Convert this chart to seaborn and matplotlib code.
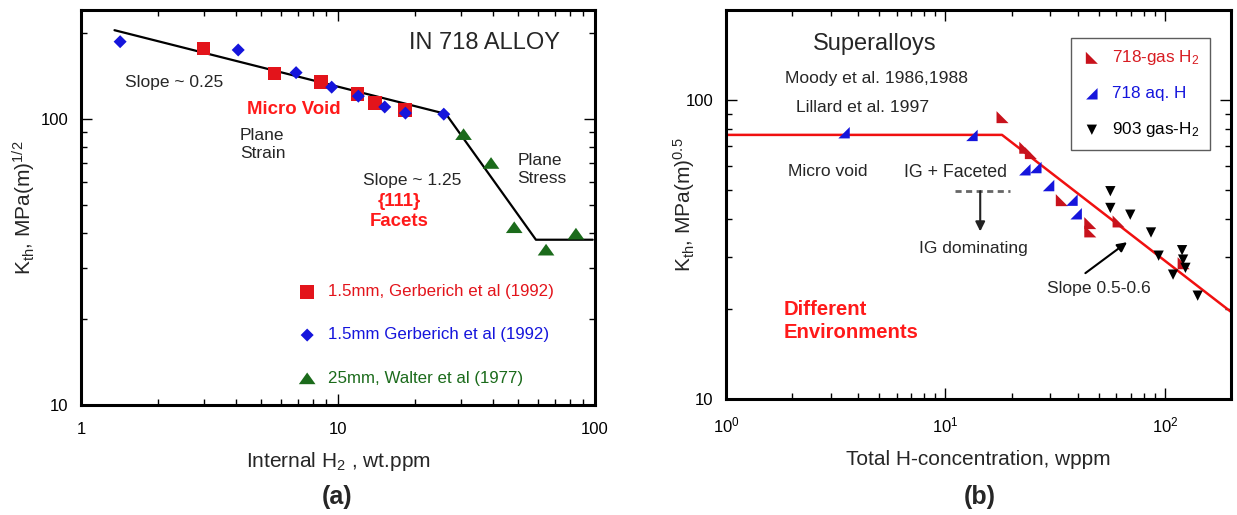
import matplotlib
matplotlib.use("Agg")
import matplotlib.pyplot as plt
import seaborn as sns
from matplotlib.ticker import FuncFormatter, LogLocator, NullFormatter

# ---------------- panel (a): IN 718, internal hydrogen ----------------
a_sq_h = [3.0, 5.65, 8.6, 11.9, 13.9, 18.2]
a_sq_k = [176, 144, 134.5, 122, 113.4, 107.2]
a_dm_h = [1.42, 4.09, 6.87, 9.45, 12.0, 15.2, 18.3, 25.8]
a_dm_k = [186, 174, 145, 129, 120, 110, 104.7, 103.8]
a_tri_h = [30.8, 39.4, 48.5, 64.5, 84.3]
a_tri_k = [88.4, 70.1, 41.8, 34.9, 39.7]
a_fit_h = [1.35, 26.3, 58.9, 98]
a_fit_k = [204, 104, 37.8, 37.8]
a_labels = ["1.5mm, Gerberich et al (1992)",
            "1.5mm Gerberich et al (1992)",
            "25mm, Walter et al (1977)"]

# ---------------- panel (b): superalloys, total hydrogen ----------------
b_gas718_h = [18.2, 23.1, 24.5, 33.9, 45.7, 45.7, 61.5, 121.7]
b_gas718_k = [87.7, 69.3, 66.5, 46.3, 38.8, 36.4, 39.3, 28.5]
b_aq718_h = [3.45, 13.2, 23.0, 25.8, 29.5, 37.7, 39.4]
b_aq718_k = [77.8, 76.2, 58.5, 59.5, 51.8, 46.3, 41.7]
b_gas903_h = [56.4, 56.4, 69.5, 86.4, 93.6, 119.7, 121.0, 124.0, 108.9, 141.0]
b_gas903_k = [49.6, 43.6, 41.4, 36.1, 30.2, 31.5, 29.3, 27.5, 26.1, 22.2]
b_fit_h = [1.0, 18.1, 200.0]
b_fit_k = [76.5, 76.5, 19.6]
b_labels = ["718-gas H$_2$", "718 aq. H", "903 gas-H$_2$"]

RED = "#e3141b"
BLUE = "#1515dc"
GREEN = "#1b6b1b"
DARKRED = "#c8121c"

sns.set_style("ticks")
plt.rcParams.update({
    "font.family": ["Liberation Sans", "DejaVu Sans"],
    "mathtext.fontset": "custom",
    "mathtext.rm": "Liberation Sans",
    "mathtext.it": "Liberation Sans:italic",
    "mathtext.bf": "Liberation Sans:bold",
    "axes.linewidth": 2.2,
    "axes.edgecolor": "black",
})

W, H = 1237, 515
fig = plt.figure(figsize=(W / 100, H / 100), dpi=100)
axA = fig.add_axes([81 / W, 1 - 405 / H, (595 - 81) / W, (405 - 10) / H])
axB = fig.add_axes([726 / W, 1 - 399.3 / H, (1231 - 726) / W, (399.3 - 10) / H])

tri_wide = [(-1, -0.7), (1, -0.7), (0, 0.7), (-1, -0.7)]
tri_ll = [(-1, -1), (1, -1), (-1, 1), (-1, -1)]   # right angle lower-left
tri_lr = [(-1, -1), (1, -1), (1, 1), (-1, -1)]    # right angle lower-right

# ---- (a) ----
sns.lineplot(x=a_fit_h, y=a_fit_k, color="black", lw=1.6, ax=axA, sort=False)
sns.scatterplot(x=a_sq_h, y=a_sq_k, marker="s", s=95, color=RED,
                edgecolor="none", linewidth=0, label=a_labels[0], ax=axA, zorder=3)
sns.scatterplot(x=a_dm_h, y=a_dm_k, marker="D", s=44, color=BLUE,
                edgecolor="none", linewidth=0, label=a_labels[1], ax=axA, zorder=3)
sns.scatterplot(x=a_tri_h, y=a_tri_k, marker=tri_wide, s=144, color=GREEN,
                edgecolor="none", linewidth=0, label=a_labels[2], ax=axA, zorder=3)

axA.set_xscale("log")
axA.set_yscale("log")
axA.set_xlim(1, 100)
axA.set_ylim(10, 240)

hA, lA = axA.get_legend_handles_labels()
legA = axA.legend(hA, lA, loc="center left", bbox_to_anchor=(297 / W, 1 - 335 / H),
                  bbox_transform=fig.transFigure, frameon=False, fontsize=12.2,
                  handlelength=1.2, handletextpad=0.65, labelspacing=1.67,
                  borderpad=0, borderaxespad=0)
for t, c in zip(legA.get_texts(), [RED, BLUE, GREEN]):
    t.set_color(c)

axA.text(37, 184, "IN 718 ALLOY", fontsize=17, ha="center", va="center")
axA.text(1.48, 134, "Slope ~ 0.25", fontsize=12.5, ha="left", va="center")
axA.text(6.74, 108, "Micro Void", fontsize=13.4, fontweight="bold", color="#ff1a1a",
         ha="center", va="center")
axA.text(4.16, 81.3, "Plane\nStrain", fontsize=12.5, ha="left", va="center", linespacing=1.3)
axA.text(19.5, 60.9, "Slope ~ 1.25", fontsize=12.5, ha="center", va="center")
axA.text(17.3, 47.5, "{111}\nFacets", fontsize=13.4, fontweight="bold", color="#ff1a1a",
         ha="center", va="center", multialignment="center", linespacing=1.2)
axA.text(49.9, 66.5, "Plane\nStress", fontsize=12.5, ha="left", va="center", linespacing=1.3)

axA.xaxis.set_major_formatter(FuncFormatter(lambda v, _: f"{v:g}"))
axA.yaxis.set_major_formatter(FuncFormatter(lambda v, _: f"{v:g}"))
axA.set_xlabel("Internal H$_2$ , wt.ppm", fontsize=15)
axA.set_ylabel("K$_{\\mathrm{th}}$, MPa(m)$^{1/2}$", fontsize=15)
axA.xaxis.set_label_coords(0.5, -0.115)
axA.yaxis.set_label_coords(-0.084, 0.5)

# ---- (b) ----
sns.lineplot(x=b_fit_h, y=b_fit_k, color="#f01010", lw=1.8, ax=axB, sort=False)
sns.scatterplot(x=b_gas718_h, y=b_gas718_k, marker=tri_ll, s=75, color=DARKRED,
                edgecolor="none", linewidth=0, label=b_labels[0], ax=axB, zorder=3)
sns.scatterplot(x=b_aq718_h, y=b_aq718_k, marker=tri_lr, s=68, color=BLUE,
                edgecolor="none", linewidth=0, label=b_labels[1], ax=axB, zorder=3)
sns.scatterplot(x=b_gas903_h, y=b_gas903_k, marker="v", s=55, color="black",
                edgecolor="none", linewidth=0, label=b_labels[2], ax=axB, zorder=3)

axB.set_xscale("log")
axB.set_yscale("log")
axB.set_xlim(1, 200)
axB.set_ylim(10, 200)

hB, lB = axB.get_legend_handles_labels()
legB = axB.legend(hB, lB, loc="upper left", bbox_to_anchor=(1071 / W, 1 - 37.7 / H),
                  bbox_transform=fig.transFigure, frameon=True, fancybox=False,
                  fontsize=12.3, handlelength=1.2, handletextpad=0.6,
                  labelspacing=1.11, borderpad=0.62, borderaxespad=0)
legB.get_frame().set_edgecolor("#333333")
legB.get_frame().set_linewidth(1.0)
for t, c in zip(legB.get_texts(), ["#d81c22", BLUE, "black"]):
    t.set_color(c)

axB.text(4.78, 153.7, "Superalloys", fontsize=17, ha="center", va="center")
axB.text(4.83, 117.9, "Moody et al. 1986,1988", fontsize=12.6, ha="center", va="center")
axB.text(4.21, 94.5, "Lillard et al. 1997", fontsize=12.6, ha="center", va="center")
axB.text(2.92, 57.8, "Micro void", fontsize=12.6, ha="center", va="center")
axB.text(11.07, 57.3, "IG + Faceted", fontsize=12.8, ha="center", va="center")
axB.plot([11.07, 19.7], [49.6, 49.6], color="#666666", lw=2.0, ls=(0, (2.2, 1.6)))
axB.annotate("", xy=(14.4, 36.4), xytext=(14.4, 49.6),
             arrowprops=dict(arrowstyle="-|>", color="#222222", lw=1.5,
                             mutation_scale=14, shrinkA=0, shrinkB=0))
axB.text(13.45, 32.0, "IG dominating", fontsize=12.6, ha="center", va="center")
axB.annotate("", xy=(67.2, 33.5), xytext=(43.4, 26.4),
             arrowprops=dict(arrowstyle="-|>", color="black", lw=1.5,
                             mutation_scale=14, shrinkA=0, shrinkB=0))
axB.text(50.2, 23.4, "Slope 0.5-0.6", fontsize=12.6, ha="center", va="center")
axB.text(1.84, 18.3, "Different\nEnvironments", fontsize=14.6, fontweight="bold",
         color="#ff1a1a", ha="left", va="center", linespacing=1.25)

axB.yaxis.set_major_formatter(FuncFormatter(lambda v, _: f"{v:g}"))
axB.set_xlabel("Total H-concentration, wppm", fontsize=15)
axB.set_ylabel("K$_{\\mathrm{th}}$, MPa(m)$^{0.5}$", fontsize=15)
axB.xaxis.set_label_coords(0.5, -0.13)
axB.yaxis.set_label_coords(-0.057, 0.5)

for ax in (axA, axB):
    ax.xaxis.set_minor_locator(LogLocator(base=10, subs=range(2, 10), numticks=20))
    ax.yaxis.set_minor_locator(LogLocator(base=10, subs=range(2, 10), numticks=20))
    ax.xaxis.set_minor_formatter(NullFormatter())
    ax.yaxis.set_minor_formatter(NullFormatter())
    ax.tick_params(which="both", direction="in", top=True, right=True, colors="black",
                   labelsize=12, width=1.0)
    ax.tick_params(which="major", length=8)
    ax.tick_params(which="minor", length=4)
    ax.tick_params(axis="x", which="major", pad=12)
    ax.tick_params(axis="y", which="major", pad=9)
    for sp in ax.spines.values():
        sp.set_visible(True)
        sp.set_linewidth(2.2)

fig.text(337 / W, 1 - 497 / H, "(a)", fontsize=18, fontweight="bold", ha="center", va="center")
fig.text(980 / W, 1 - 497 / H, "(b)", fontsize=18, fontweight="bold", ha="center", va="center")

fig.savefig("out.png", dpi=100)
